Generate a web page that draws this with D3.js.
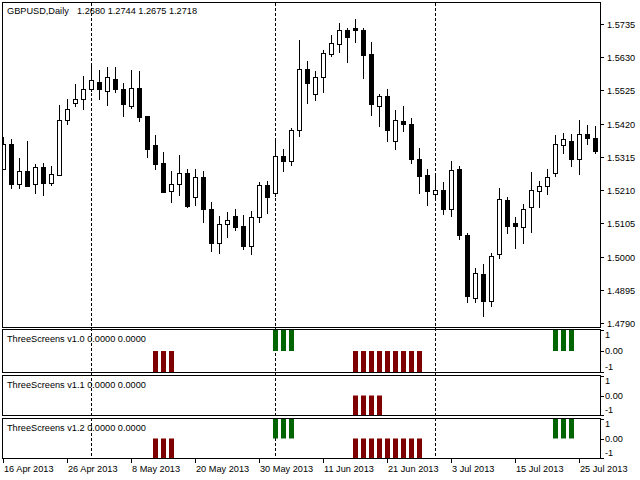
<!DOCTYPE html>
<html><head><meta charset="utf-8">
<script src="https://cdn.jsdelivr.net/npm/d3@7"></script>
<style>
html,body{margin:0;padding:0;background:#fff;}
svg{display:block;}
text{font-family:"Liberation Sans",Arial,sans-serif;font-size:9.2px;fill:#000;}
</style></head><body>
<svg id="c" width="640" height="480"></svg>
<script>
const symbolTitle = "GBPUSD,Daily";
const quoteText = "1.2680 1.2744 1.2675 1.2718";

const dates = [
 "2013-04-16","2013-04-17","2013-04-18","2013-04-19","2013-04-22","2013-04-23","2013-04-24","2013-04-25","2013-04-26","2013-04-29","2013-04-30",
 "2013-05-01","2013-05-02","2013-05-03","2013-05-06","2013-05-07","2013-05-08","2013-05-09","2013-05-10","2013-05-13","2013-05-14","2013-05-15","2013-05-16","2013-05-17","2013-05-20","2013-05-21","2013-05-22","2013-05-23","2013-05-24","2013-05-27","2013-05-28","2013-05-29","2013-05-30","2013-05-31",
 "2013-06-03","2013-06-04","2013-06-05","2013-06-06","2013-06-07","2013-06-10","2013-06-11","2013-06-12","2013-06-13","2013-06-14","2013-06-17","2013-06-18","2013-06-19","2013-06-20","2013-06-21","2013-06-24","2013-06-25","2013-06-26","2013-06-27","2013-06-28",
 "2013-07-01","2013-07-02","2013-07-03","2013-07-04","2013-07-05","2013-07-08","2013-07-09","2013-07-10","2013-07-11","2013-07-12","2013-07-15","2013-07-16","2013-07-17","2013-07-18","2013-07-19","2013-07-22","2013-07-23","2013-07-24","2013-07-25","2013-07-26","2013-07-29"
];

const opens = [
 1.5278,1.5357,1.5228,1.5272,1.5228,1.5283,1.5234,1.5259,1.5433,1.5484,1.5497,
 1.5528,1.5552,1.5524,1.5561,1.5529,1.5475,1.5531,1.5443,1.5352,1.5295,1.5206,1.5228,1.5263,1.5187,1.5250,1.5150,1.5043,1.5102,1.5127,1.5096,1.5034,1.5124,1.5225,
 1.5201,1.5317,1.5303,1.5399,1.5594,1.5512,1.5568,1.5639,1.5670,1.5716,1.5721,1.5716,1.5640,1.5476,1.5506,1.5366,1.5428,1.5418,1.5308,1.5257,
 1.5197,1.5212,1.5152,1.5276,1.5068,1.4870,1.4944,1.4860,1.5007,1.5178,1.5105,1.5094,1.5157,1.5207,1.5223,1.5263,1.5354,1.5365,1.5309,1.5386,1.5376
];
const highs = [
 1.5378,1.5373,1.5310,1.5365,1.5292,1.5296,1.5286,1.5479,1.5497,1.5545,1.5570,
 1.5613,1.5589,1.5598,1.5598,1.5549,1.5589,1.5587,1.5444,1.5384,1.5330,1.5270,1.5321,1.5278,1.5278,1.5272,1.5172,1.5128,1.5140,1.5152,1.5133,1.5144,1.5235,1.5238,
 1.5375,1.5339,1.5407,1.5684,1.5618,1.5586,1.5652,1.5700,1.5737,1.5721,1.5750,1.5721,1.5677,1.5515,1.5528,1.5463,1.5475,1.5438,1.5343,1.5276,
 1.5254,1.5236,1.5302,1.5286,1.5076,1.4963,1.4978,1.5013,1.5218,1.5187,1.5124,1.5166,1.5266,1.5238,1.5278,1.5384,1.5389,1.5387,1.5433,1.5415,1.5412
];
const lows = [
 1.5273,1.5215,1.5214,1.5220,1.5198,1.5192,1.5223,1.5255,1.5415,1.5473,1.5463,
 1.5521,1.5494,1.5475,1.5517,1.5442,1.5465,1.5426,1.5312,1.5273,1.5201,1.5170,1.5193,1.5154,1.5160,1.5107,1.5015,1.5008,1.5059,1.5080,1.5020,1.5005,1.5107,1.5134,
 1.5189,1.5268,1.5287,1.5378,1.5483,1.5492,1.5517,1.5629,1.5642,1.5612,1.5675,1.5561,1.5444,1.5410,1.5363,1.5336,1.5394,1.5292,1.5199,1.5160,
 1.5178,1.5133,1.5126,1.5054,1.4854,1.4854,1.4810,1.4841,1.4994,1.5073,1.5024,1.5040,1.5075,1.5154,1.5194,1.5252,1.5323,1.5284,1.5257,1.5354,1.5324
];
const closes = [
 1.5357,1.5228,1.5272,1.5223,1.5283,1.5233,1.5260,1.5431,1.5465,1.5497,1.5528,
 1.5558,1.5528,1.5566,1.5528,1.5481,1.5531,1.5442,1.5341,1.5294,1.5205,1.5231,1.5263,1.5160,1.5250,1.5149,1.5043,1.5102,1.5115,1.5094,1.5034,1.5124,1.5225,1.5189,
 1.5317,1.5302,1.5400,1.5594,1.5549,1.5566,1.5642,1.5673,1.5715,1.5694,1.5716,1.5637,1.5483,1.5506,1.5400,1.5431,1.5418,1.5308,1.5255,1.5208,
 1.5212,1.5152,1.5275,1.5068,1.4876,1.4947,1.4860,1.5001,1.5181,1.5097,1.5097,1.5152,1.5209,1.5223,1.5250,1.5357,1.5371,1.5309,1.5386,1.5375,1.5334
];

const priceTicks = [1.5735,1.5630,1.5525,1.5420,1.5315,1.5210,1.5105,1.5000,1.4895,1.4790];

const dateTickKeys = ["2013-04-16","2013-04-26","2013-05-08","2013-05-20","2013-05-30","2013-06-11","2013-06-21","2013-07-03","2013-07-15","2013-07-25"];
const dateTickLabels = ["16 Apr 2013","26 Apr 2013","8 May 2013","20 May 2013","30 May 2013","11 Jun 2013","21 Jun 2013","3 Jul 2013","15 Jul 2013","25 Jul 2013"];

const periodSeparators = ["2013-05-01","2013-06-03","2013-07-01"];

const paneTitles = ["ThreeScreens v1.0 0.0000 0.0000","ThreeScreens v1.1 0.0000 0.0000","ThreeScreens v1.2 0.0000 0.0000"];
const paneTickValues = [1, 0, -1];
const paneTickLabels = ["1", "0.00", "-1"];

const signalV10 = [0,0,0,0,0,0,0,0,0,0,0,0,0,0,0,0,0,0,0,-1,-1,-1,0,0,0,0,0,0,0,0,0,0,0,0,1,1,1,0,0,0,0,0,0,0,-1,-1,-1,-1,-1,-1,-1,-1,-1,0,0,0,0,0,0,0,0,0,0,0,0,0,0,0,0,1,1,1,0,0,0];
const signalV11 = [0,0,0,0,0,0,0,0,0,0,0,0,0,0,0,0,0,0,0,0,0,0,0,0,0,0,0,0,0,0,0,0,0,0,0,0,0,0,0,0,0,0,0,0,-1,-1,-1,-1,0,0,0,0,0,0,0,0,0,0,0,0,0,0,0,0,0,0,0,0,0,0,0,0,0,0,0];
const signalV12 = [0,0,0,0,0,0,0,0,0,0,0,0,0,0,0,0,0,0,0,-1,-1,-1,0,0,0,0,0,0,0,0,0,0,0,0,1,1,1,0,0,0,0,0,0,0,-1,-1,-1,-1,-1,-1,-1,-1,-1,0,0,0,0,0,0,0,0,0,0,0,0,0,0,0,0,1,1,1,0,0,0];

const upColor = "#006400", downColor = "#800000";

const svg = d3.select("#c");
const L = 2, R = 601;
const main = {top: 2, bottom: 327};
const panes = [
  {top: 329, bottom: 373, data: signalV10, title: paneTitles[0]},
  {top: 375, bottom: 416, data: signalV11, title: paneTitles[1]},
  {top: 418, bottom: 459, data: signalV12, title: paneTitles[2]}
];

const x = d3.scalePoint().domain(dates).range([3.5, 595.5]);
const y = d3.scaleLinear().domain([1.4778, 1.5804]).range([main.bottom, main.top]);

const defs = svg.append("defs");
defs.append("clipPath").attr("id","clipMain").append("rect")
  .attr("x", L+1).attr("y", main.top+1).attr("width", R-L-1).attr("height", main.bottom-main.top-1);
panes.forEach((p,i)=>{
  defs.append("clipPath").attr("id","clipP"+i).append("rect")
    .attr("x", L+1).attr("y", p.top).attr("width", R-L-1).attr("height", p.bottom-p.top);
});

// period separators
const sepG = svg.append("g");
periodSeparators.forEach(d=>{
  sepG.append("line").attr("x1", x(d)).attr("x2", x(d)).attr("y1", main.top+1).attr("y2", 459)
    .attr("stroke","#000").attr("stroke-width",1).attr("stroke-dasharray","3,2");
});

// candles
const candles = dates.map((d,i)=>({d, o:opens[i], h:highs[i], l:lows[i], c:closes[i]}));
const cg = svg.append("g").attr("clip-path","url(#clipMain)");
cg.selectAll("line.wick").data(candles).join("line").attr("class","wick")
  .attr("x1", c=>x(c.d)).attr("x2", c=>x(c.d))
  .attr("y1", c=>Math.round(y(c.h))).attr("y2", c=>Math.round(y(c.l)))
  .attr("stroke","#000").attr("stroke-width",1);
cg.selectAll("rect.body").data(candles).join("rect").attr("class","body")
  .attr("x", c=>x(c.d)-2)
  .attr("y", c=>Math.round(y(Math.max(c.o,c.c)))+0.5)
  .attr("width", 4)
  .attr("height", c=>Math.max(1, Math.round(y(Math.min(c.o,c.c))) - Math.round(y(Math.max(c.o,c.c)))))
  .attr("fill", c=> c.c >= c.o ? "#fff" : "#000")
  .attr("stroke","#000").attr("stroke-width",1);

// indicator panes
panes.forEach((p,i)=>{
  const py = d3.scaleLinear().domain([-1,1]).range([p.bottom, p.top]);
  p.scale = py;
  const g = svg.append("g").attr("clip-path","url(#clipP"+i+")");
  const bars = dates.map((d,k)=>({d, v:p.data[k]})).filter(b=>b.v!==0);
  g.selectAll("rect").data(bars).join("rect")
    .attr("x", b=>x(b.d)-2.5).attr("width",5)
    .attr("y", b=>Math.min(py(0), py(b.v)))
    .attr("height", b=>Math.abs(py(b.v)-py(0)))
    .attr("fill", b=> b.v>0 ? upColor : downColor);
});

// frames
svg.append("rect").attr("x", L+0.5).attr("y", main.top+0.5).attr("width", R-L-1).attr("height", main.bottom-main.top)
  .attr("fill","none").attr("stroke","#000");
panes.forEach(p=>{
  svg.append("rect").attr("x", L+0.5).attr("y", p.top+0.5).attr("width", R-L-1).attr("height", p.bottom-p.top-1)
    .attr("fill","none").attr("stroke","#000");
});

// price axis
const ag = svg.append("g");
priceTicks.forEach(v=>{
  const yy = Math.round(y(v))+0.5;
  ag.append("line").attr("x1", R).attr("x2", R+3).attr("y1", yy).attr("y2", yy).attr("stroke","#000");
  ag.append("text").attr("x", R+6).attr("y", yy+3.3).text(v.toFixed(4));
});
// pane axes
panes.forEach(p=>{
  paneTickValues.forEach((v,k)=>{
    const t = p.scale(v);
    const yy = Math.round(Math.min(Math.max(t, p.top+1), p.bottom-1))+0.5;
    ag.append("line").attr("x1", R).attr("x2", R+3).attr("y1", yy).attr("y2", yy).attr("stroke","#000");
    const ly = Math.min(Math.max(t, p.top+6), p.bottom-6.5);
    ag.append("text").attr("x", R+4).attr("y", ly+3.3).text(paneTickLabels[k]);
  });
  svg.append("text").attr("x", 7).attr("y", p.top+12.7).text(p.title);
});

// date axis
dateTickKeys.forEach((d,k)=>{
  const xx = x(d);
  ag.append("line").attr("x1", xx).attr("x2", xx).attr("y1", 459).attr("y2", 463).attr("stroke","#000");
  ag.append("text").attr("x", xx+0.5).attr("y", 471.5).text(dateTickLabels[k]);
});

// header
svg.append("text").attr("x", 7).attr("y", 14).text(symbolTitle);
svg.append("text").attr("x", 77).attr("y", 14).text(quoteText);
</script>
</body></html>
